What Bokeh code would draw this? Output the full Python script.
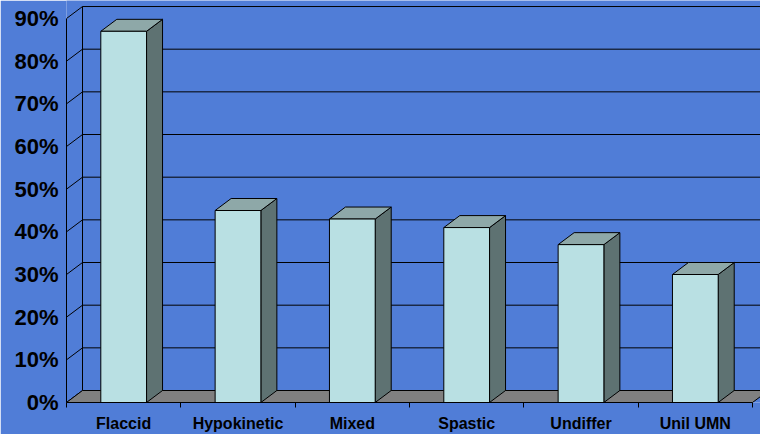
from bokeh.plotting import figure
from bokeh.models import Range1d, LinearAxis, FixedTicker, PrintfTickFormatter
from bokeh.embed import file_html
from bokeh.resources import INLINE

# ---- data ----
categories = ["Flaccid", "Hypokinetic", "Mixed", "Spastic", "Undiffer", "Unil UMN"]
values = [87, 45, 43, 41, 37, 30]
y_ticks = [0, 10, 20, 30, 40, 50, 60, 70, 80, 90]

# ---- style ----
BG = "#507DD7"
FRONT = "#B9E0E3"
SIDE = "#5E7272"
TOP = "#8EA8A8"
FLOOR = "#808080"
DX = 0.14    # depth offset (x units)
DY = 2.81    # depth offset (y units)
BW = 0.40    # bar width

n = len(categories)
ymax = y_ticks[-1]

p = figure(width=760, height=434, output_backend="svg", toolbar_location=None,
           x_range=Range1d(0, 6.07), y_range=Range1d(0, 94.22),
           x_axis_type=None, y_axis_type=None,
           min_border_left=66, min_border_right=0, min_border_top=0, min_border_bottom=32)
p.background_fill_color = BG
p.border_fill_color = BG
p.outline_line_color = None
p.grid.visible = False

# side wall + back wall gridlines
xs, ys = [], []
for t in y_ticks:
    xs.append([0, DX, n + DX])
    ys.append([t, t + DY, t + DY])
p.multi_line(xs, ys, line_color="black", line_width=1)
# back wall left edge
p.line([DX, DX], [DY, ymax + DY], line_color="black", line_width=1)

# floor
p.patch([0, n, n + DX, DX], [0, 0, DY, DY], fill_color=FLOOR, line_color="black", line_width=1)

# bars
centers = [i + 0.5 for i in range(n)]
left = [c - BW / 2 for c in centers]
right = [c + BW / 2 for c in centers]
side_xs = [[r, r + DX, r + DX, r] for r in right]
side_ys = [[0, DY, v + DY, v] for v in values]
top_xs = [[l, r, r + DX, l + DX] for l, r in zip(left, right)]
top_ys = [[v, v, v + DY, v + DY] for v in values]

p.patches(side_xs, side_ys, fill_color=SIDE, line_color="black", line_width=1)
p.patches(top_xs, top_ys, fill_color=TOP, line_color="black", line_width=1)
p.quad(left=left, right=right, bottom=[0] * n, top=values,
       fill_color=FRONT, line_color="black", line_width=1)

# axes
yaxis = LinearAxis(ticker=FixedTicker(ticks=y_ticks), formatter=PrintfTickFormatter(format="%d%%"),
                   bounds=(0, ymax))
yaxis.major_tick_out = 0
yaxis.major_tick_in = 0
yaxis.minor_tick_out = 0
yaxis.minor_tick_in = 0
yaxis.major_label_standoff = 8
yaxis.major_label_text_font = "Liberation Sans"
yaxis.major_label_text_font_style = "bold"
yaxis.major_label_text_font_size = "22px"
yaxis.major_label_text_color = "black"
yaxis.axis_line_color = "black"
p.add_layout(yaxis, "left")

xaxis = LinearAxis(ticker=FixedTicker(ticks=centers, minor_ticks=list(range(n + 1))),
                   bounds=(0, n))
xaxis.major_label_overrides = {c: lab for c, lab in zip(centers, categories)}
xaxis.major_tick_out = 0
xaxis.major_tick_in = 0
xaxis.minor_tick_out = 5
xaxis.minor_tick_in = 0
xaxis.minor_tick_line_color = "black"
xaxis.major_label_standoff = 7
xaxis.major_label_text_font = "Liberation Sans"
xaxis.major_label_text_font_style = "bold"
xaxis.major_label_text_font_size = "16px"
xaxis.major_label_text_color = "black"
xaxis.axis_line_color = "black"
p.add_layout(xaxis, "below")

open("out.html", "w").write(file_html(p, INLINE))
